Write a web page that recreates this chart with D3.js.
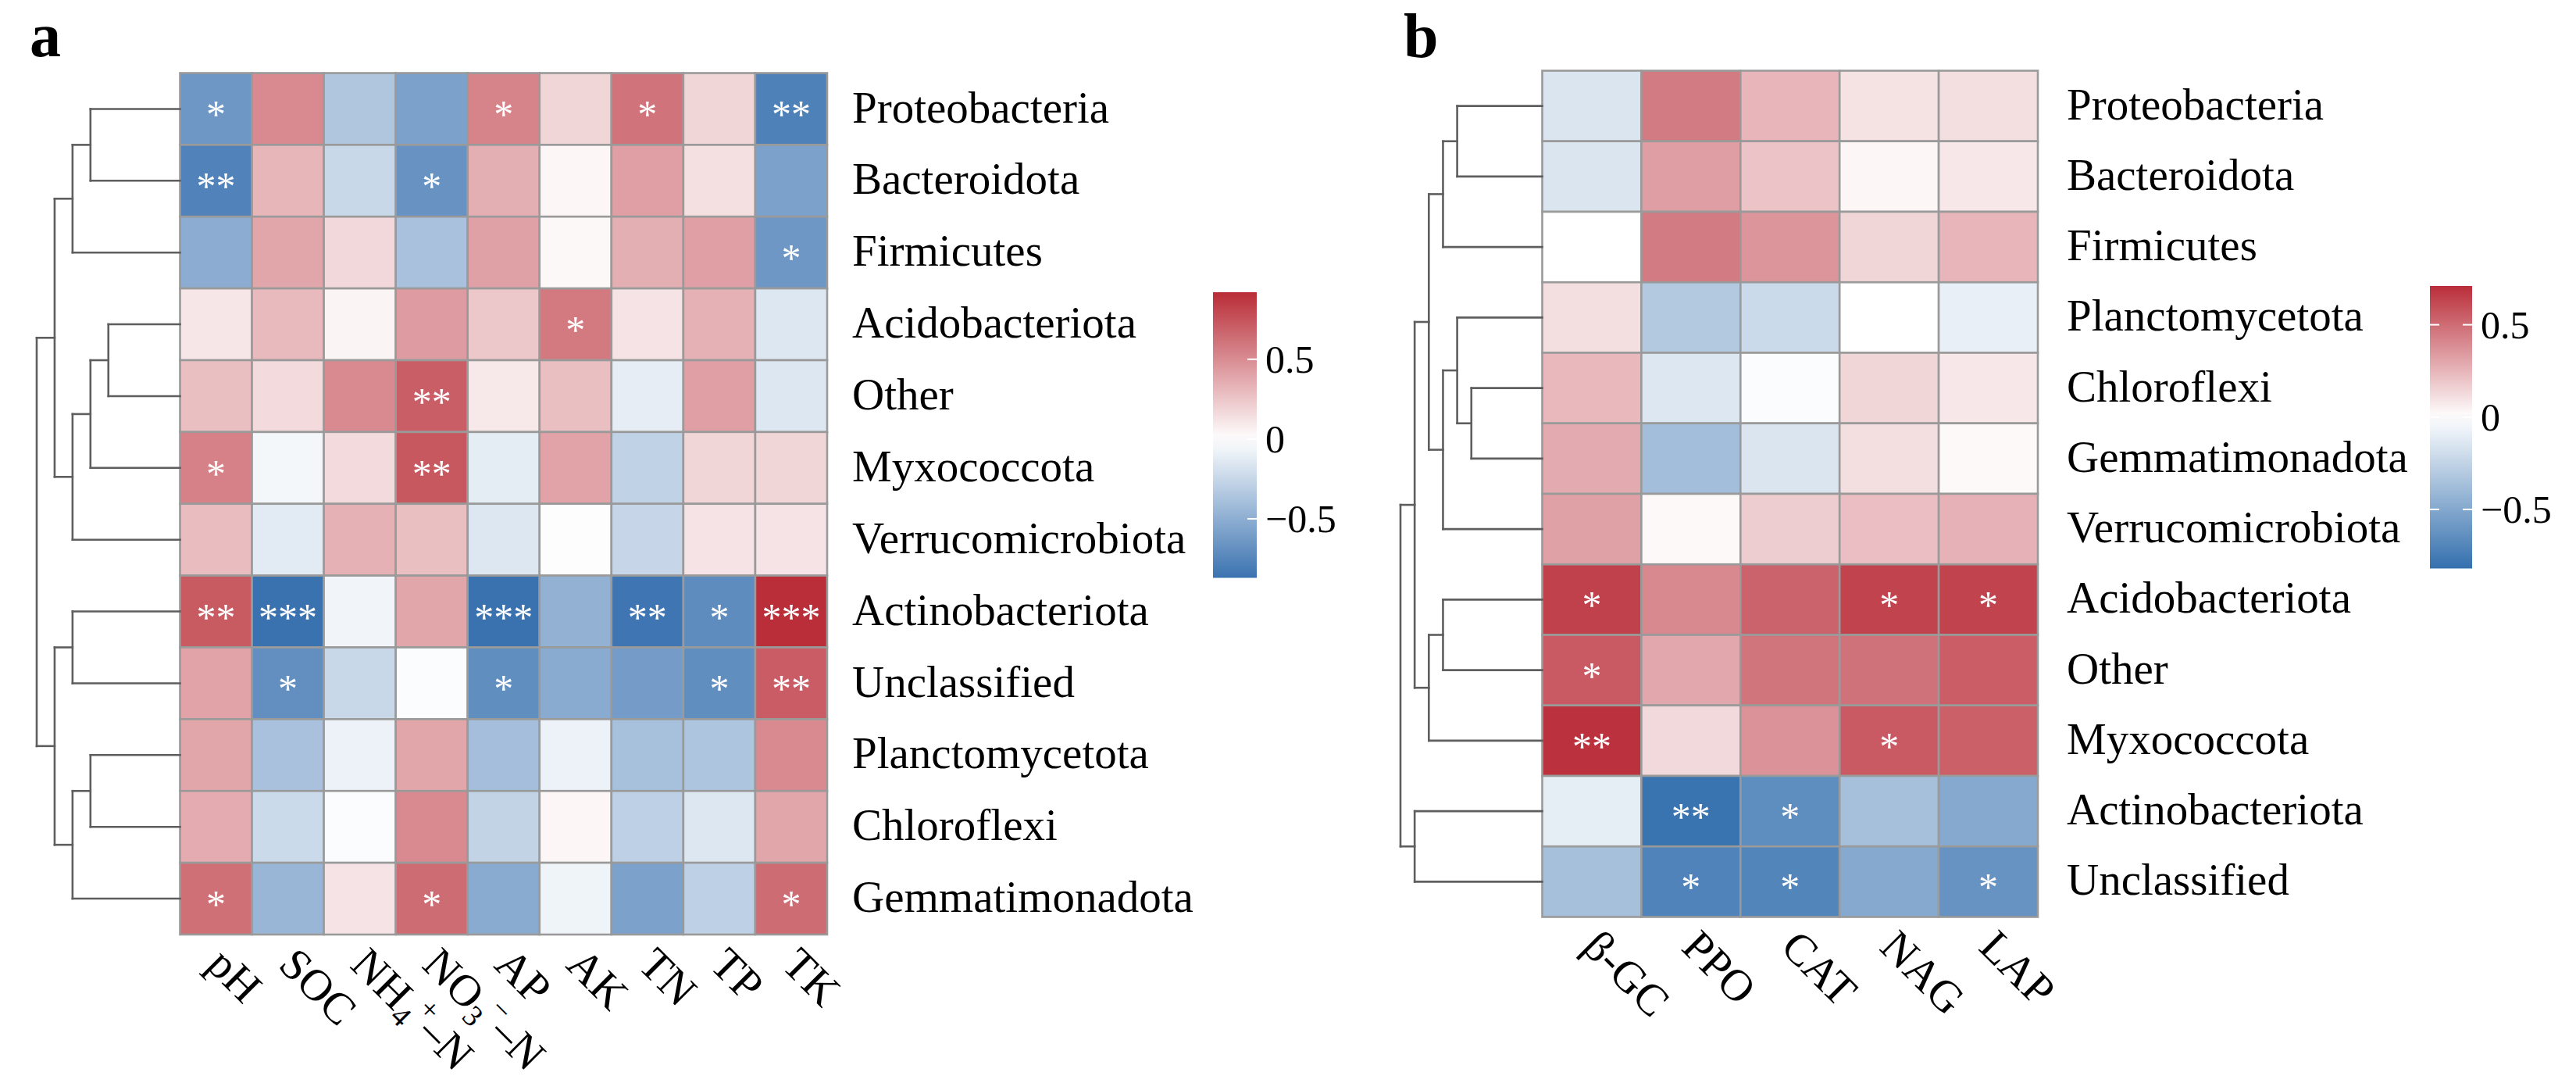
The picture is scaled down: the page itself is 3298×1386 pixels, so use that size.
<!DOCTYPE html>
<html>
  <head>
    <meta charset="utf-8" />
    <script src="https://d3js.org/d3.v7.min.js"></script>
    <style>
      body { margin: 0; background: #fff; }
      text { font-family: "Liberation Serif", "Times New Roman", serif; }
    </style>
  </head>
  <body>
    <div id="chart"></div>
    <script>
      // ---- panel a : phyla vs soil properties ----
      const rowsA = ["Proteobacteria", "Bacteroidota", "Firmicutes", "Acidobacteriota", "Other", "Myxococcota",
        "Verrucomicrobiota", "Actinobacteriota", "Unclassified", "Planctomycetota", "Chloroflexi", "Gemmatimonadota"];
      // _x = subscript, ^x = superscript
      const colsA = ["pH", "SOC", "NH_4^+–N", "NO_3^−–N", "AP", "AK", "TN", "TP", "TK"];
      const valuesA = [
        [-0.64, 0.51, -0.35, -0.58, 0.54, 0.18, 0.61, 0.18, -0.78],
        [-0.77, 0.32, -0.24, -0.67, 0.35, 0.04, 0.42, 0.14, -0.58],
        [-0.51, 0.39, 0.17, -0.38, 0.41, 0.03, 0.35, 0.42, -0.64],
        [0.11, 0.30, 0.05, 0.43, 0.24, 0.58, 0.12, 0.34, -0.15],
        [0.28, 0.16, 0.51, 0.70, 0.10, 0.28, -0.11, 0.42, -0.15],
        [0.55, -0.05, 0.16, 0.73, -0.12, 0.40, -0.28, 0.18, 0.18],
        [0.29, -0.13, 0.34, 0.28, -0.15, 0.01, -0.25, 0.12, 0.12],
        [0.72, -0.87, -0.06, 0.39, -0.87, -0.48, -0.85, -0.71, 0.91],
        [0.40, -0.69, -0.24, -0.02, -0.70, -0.52, -0.61, -0.70, 0.71],
        [0.39, -0.38, -0.08, 0.39, -0.40, -0.08, -0.39, -0.36, 0.51],
        [0.36, -0.23, -0.02, 0.51, -0.27, 0.04, -0.29, -0.15, 0.39],
        [0.63, -0.45, 0.12, 0.64, -0.52, -0.07, -0.58, -0.29, 0.64],
      ];
      const starsA = [
        ["*", "", "", "", "*", "", "*", "", "**"],
        ["**", "", "", "*", "", "", "", "", ""],
        ["", "", "", "", "", "", "", "", "*"],
        ["", "", "", "", "", "*", "", "", ""],
        ["", "", "", "**", "", "", "", "", ""],
        ["*", "", "", "**", "", "", "", "", ""],
        ["", "", "", "", "", "", "", "", ""],
        ["**", "***", "", "", "***", "", "**", "*", "***"],
        ["", "*", "", "", "*", "", "", "*", "**"],
        ["", "", "", "", "", "", "", "", ""],
        ["", "", "", "", "", "", "", "", ""],
        ["*", "", "", "*", "", "", "", "", "*"],
      ];
      // [height, left, right] ; leaves are row names
      const treeA = [1.0,
        [0.875, [0.75, [0.625, "Proteobacteria", "Bacteroidota"], "Firmicutes"],
          [0.75, [0.625, [0.5, "Acidobacteriota", "Other"], "Myxococcota"], "Verrucomicrobiota"]],
        [0.875, [0.75, "Actinobacteriota", "Unclassified"],
          [0.75, [0.625, "Planctomycetota", "Chloroflexi"], "Gemmatimonadota"]]];
      const legendRangeA = [-0.87, 0.92];

      // ---- panel b : phyla vs enzyme activities ----
      const rowsB = ["Proteobacteria", "Bacteroidota", "Firmicutes", "Planctomycetota", "Chloroflexi", "Gemmatimonadota",
        "Verrucomicrobiota", "Acidobacteriota", "Other", "Myxococcota", "Actinobacteriota", "Unclassified"];
      const colsB = ["β-GC", "PPO", "CAT", "NAG", "LAP"];
      const valuesB = [
        [-0.15, 0.45, 0.25, 0.10, 0.11],
        [-0.15, 0.33, 0.20, 0.03, 0.08],
        [0.0, 0.45, 0.36, 0.14, 0.25],
        [0.11, -0.31, -0.21, 0.0, -0.09],
        [0.24, -0.14, -0.02, 0.14, 0.08],
        [0.29, -0.37, -0.15, 0.11, 0.02],
        [0.32, 0.02, 0.17, 0.22, 0.26],
        [0.65, 0.40, 0.53, 0.64, 0.64],
        [0.56, 0.30, 0.47, 0.48, 0.55],
        [0.70, 0.13, 0.37, 0.56, 0.54],
        [-0.10, -0.80, -0.65, -0.36, -0.49],
        [-0.36, -0.71, -0.70, -0.49, -0.62],
      ];
      const starsB = [
        ["", "", "", "", ""],
        ["", "", "", "", ""],
        ["", "", "", "", ""],
        ["", "", "", "", ""],
        ["", "", "", "", ""],
        ["", "", "", "", ""],
        ["", "", "", "", ""],
        ["*", "", "", "*", "*"],
        ["*", "", "", "", ""],
        ["**", "", "", "*", ""],
        ["", "**", "*", "", ""],
        ["", "*", "*", "", "*"],
      ];
      const treeB = [1.0,
        [0.9,
          [0.8, [0.7, [0.6, "Proteobacteria", "Bacteroidota"], "Firmicutes"],
            [0.7, [0.6, "Planctomycetota", [0.5, "Chloroflexi", "Gemmatimonadota"]], "Verrucomicrobiota"]],
          [0.8, [0.7, "Acidobacteriota", "Other"], "Myxococcota"]],
        [0.9, "Actinobacteriota", "Unclassified"]];
      const legendRangeB = [-0.82, 0.71];

      const legendTicks = [-0.5, 0, 0.5];

      const svg = d3.select("#chart").append("svg").attr("width", 3298).attr("height", 1386);

      drawPanel({
        tag: "a", tagX: 38, tagY: 72,
        rows: rowsA, cols: colsA, values: valuesA, stars: starsA, tree: treeA, range: legendRangeA,
        blue: "#3a72b0", red: "#b92c37",
        x0: 230.5, y0: 93.5, w: 828.5, h: 1102.5, rootX: 47, labelGap: 32,
        legX: 1553, legW: 56, legTop: 374, legBottom: 739.5, leftTicks: false,
      });
      drawPanel({
        tag: "b", tagX: 1797, tagY: 73,
        rows: rowsB, cols: colsB, values: valuesB, stars: starsB, tree: treeB, range: legendRangeB,
        blue: "#3470ae", red: "#ba2e3a",
        x0: 1974.5, y0: 90.5, w: 634.5, h: 1083, rootX: 1793, labelGap: 37,
        legX: 3111, legW: 54, legTop: 366, legBottom: 727.5, leftTicks: true,
      });

      function drawPanel(p) {
        const g = svg.append("g");
        const x = d3.scaleBand().domain(p.cols).range([p.x0, p.x0 + p.w]);
        const y = d3.scaleBand().domain(p.rows).range([p.y0, p.y0 + p.h]);
        const color = d3.scaleLinear().domain([p.range[0], 0, p.range[1]]).range([p.blue, "#ffffff", p.red]);

        // panel tag
        g.append("text").attr("x", p.tagX).attr("y", p.tagY)
          .style("font-size", "80px").style("font-weight", "bold").text(p.tag);

        // cells
        const cells = [];
        p.rows.forEach((r, i) => p.cols.forEach((c, j) => cells.push({ r, c, v: p.values[i][j], s: p.stars[i][j] })));
        g.selectAll(".cell").data(cells).enter().append("rect")
          .attr("x", (d) => x(d.c)).attr("y", (d) => y(d.r))
          .attr("width", x.bandwidth()).attr("height", y.bandwidth())
          .attr("fill", (d) => color(d.v))
          .attr("stroke", "#9a9a9a").attr("stroke-width", 2.6);

        g.selectAll(".star").data(cells.filter((d) => d.s)).enter().append("text")
          .attr("x", (d) => x(d.c) + x.bandwidth() / 2)
          .attr("y", (d) => y(d.r) + y.bandwidth() / 2 + 24)
          .attr("text-anchor", "middle").attr("fill", "#fff")
          .style("font-size", "50px").text((d) => d.s);

        // row labels
        g.selectAll(".rowlab").data(p.rows).enter().append("text")
          .attr("x", p.x0 + p.w + p.labelGap).attr("y", (d) => y(d) + y.bandwidth() / 2)
          .attr("dy", "0.3em").style("font-size", "57px").text((d) => d);

        // column labels, rotated 45 degrees
        const cl = g.selectAll(".collab").data(p.cols).enter().append("text")
          .attr("transform", (d) => `translate(${x(d) + x.bandwidth() / 2},${p.y0 + p.h + 27}) rotate(45)`)
          .attr("dy", "0.35em").style("font-size", "57px");
        cl.each(function (d) {
          const t = d3.select(this);
          const parts = d.match(/[_^].|[^_^]+/g);
          parts.forEach((s) => {
            if (s[0] === "_") t.append("tspan").attr("baseline-shift", "-10").style("font-size", "38px").text(s[1]);
            else if (s[0] === "^") t.append("tspan").attr("baseline-shift", "22").style("font-size", "38px").text(s[1]);
            else t.append("tspan").text(s);
          });
        });

        // dendrogram
        const root = d3.hierarchy(p.tree, (d) => (Array.isArray(d) ? d.slice(1) : null));
        const hx = d3.scaleLinear().domain([0, 1]).range([p.x0, p.rootX]);
        root.eachAfter((n) => {
          if (n.children) {
            n.hh = n.data[0];
            n.yy = d3.mean(n.children, (c) => c.yy);
          } else {
            n.hh = 0;
            n.yy = y(n.data) + y.bandwidth() / 2;
          }
        });
        const segs = [];
        root.each((n) => {
          if (!n.children) return;
          const [a, b] = n.children;
          segs.push([hx(n.hh), a.yy, hx(n.hh), b.yy]);
          n.children.forEach((c) => segs.push([hx(n.hh), c.yy, hx(c.hh), c.yy]));
        });
        g.selectAll(".seg").data(segs).enter().append("line")
          .attr("x1", (d) => d[0]).attr("y1", (d) => d[1]).attr("x2", (d) => d[2]).attr("y2", (d) => d[3])
          .attr("stroke", "#5e5e5e").attr("stroke-width", 2.6).attr("stroke-linecap", "square");

        // colour legend
        const ly = d3.scaleLinear().domain(p.range).range([p.legBottom, p.legTop]);
        const gid = "grad" + p.tag;
        const grad = svg.append("defs").append("linearGradient").attr("id", gid)
          .attr("x1", 0).attr("y1", 1).attr("x2", 0).attr("y2", 0);
        d3.range(0, 1.0001, 0.05).forEach((t) => {
          const v = p.range[0] + t * (p.range[1] - p.range[0]);
          grad.append("stop").attr("offset", t).attr("stop-color", color(v));
        });
        g.append("rect").attr("x", p.legX).attr("y", p.legTop).attr("width", p.legW)
          .attr("height", p.legBottom - p.legTop).attr("fill", `url(#${gid})`);
        legendTicks.forEach((v) => {
          g.append("line").attr("x1", p.legX + p.legW - 12).attr("x2", p.legX + p.legW)
            .attr("y1", ly(v)).attr("y2", ly(v)).attr("stroke", "#fff").attr("stroke-width", 2);
          if (p.leftTicks) {
            g.append("line").attr("x1", p.legX).attr("x2", p.legX + 12)
              .attr("y1", ly(v)).attr("y2", ly(v)).attr("stroke", "#fff").attr("stroke-width", 2);
          }
          g.append("text").attr("x", p.legX + p.legW + 11).attr("y", ly(v)).attr("dy", "0.35em")
            .style("font-size", "50px").text(v === 0 ? "0" : d3.format(".1f")(v).replace("-", "−"));
        });
      }
    </script>
  </body>
</html>
